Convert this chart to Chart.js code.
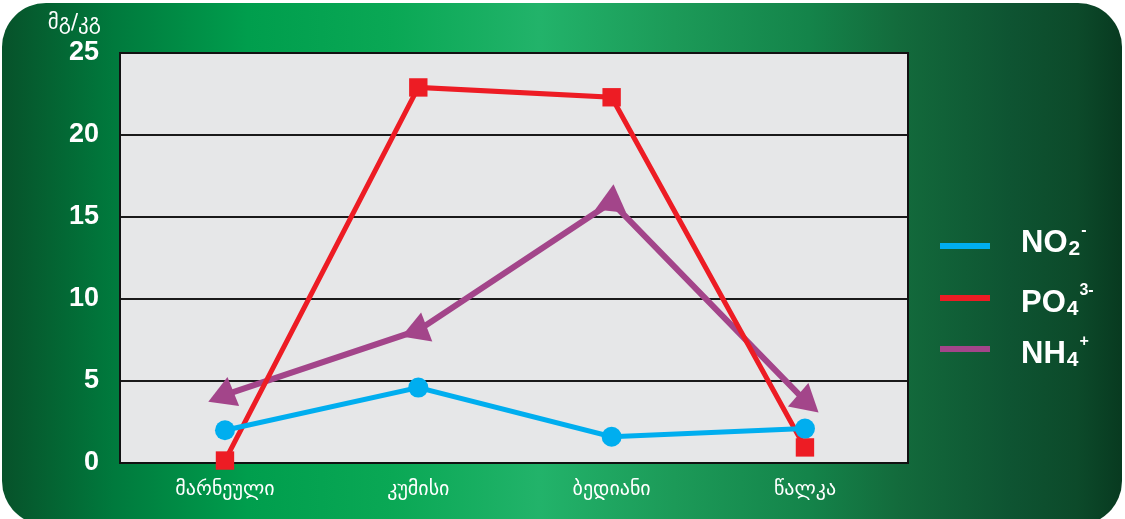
<!DOCTYPE html>
<html>
<head>
<meta charset="utf-8">
<script src="https://cdn.jsdelivr.net/npm/chart.js@4"></script>
<style>
  html, body { margin: 0; padding: 0; background: #fff; }
  #wrap { position: relative; width: 1125px; height: 519px; overflow: hidden; }
  #bg {
    position: absolute; left: 2px; top: 3px; width: 1120px; height: 522px;
    border-radius: 44px;
    background: linear-gradient(to right,
      #07522a 0%, #007a3d 10%, #009e4d 22%, #0aa855 35%, #22b36a 48%,
      #1c9a58 60%, #14844a 72%, #136b3c 80%, #0e5432 90%, #0c4a2a 96%, #083a20 100%);
  }
  #box { position: absolute; left: 0; top: 0; width: 1125px; height: 519px; }
</style>
</head>
<body>
<div id="wrap">
  <div id="bg"></div>
  <div id="box"><canvas id="myChart"></canvas></div>
</div>
<script>
// კატეგორიები (სადგურები)
const categories = ['მარნეული', 'კუმისი', 'ბედიანი', 'წალკა'];

// კონცენტრაციები, მგ/კგ
const no2Values = [2.0, 4.6, 1.6, 2.1];
const po4Values = [0.15, 22.9, 22.3, 0.95];
const nh4Values = [4.15, 8.1, 15.9, 3.8];

// Y ღერძის დანაყოფები
const yTicks = [0, 5, 10, 15, 20, 25];

// ლეგენდა: ძირითადი ტექსტი, ქვედა ინდექსი, ზედა ინდექსი
const seriesLabels = [['NO', '2', '-'], ['PO', '4', '3-'], ['NH', '4', '+']];
const unitLabel = 'მგ/კგ';

// ნაცრისფერი ფონი და ჩარჩო
const plotFrame = {
  id: 'plotFrame',
  beforeDraw(chart) {
    const { ctx, chartArea: a } = chart;
    ctx.save();
    ctx.fillStyle = '#e6e7e8';
    ctx.fillRect(a.left, a.top, a.right - a.left, a.bottom - a.top);
    ctx.restore();
  },
  beforeDatasetsDraw(chart) {
    const { ctx, chartArea: a } = chart;
    ctx.save();
    ctx.strokeStyle = '#111';
    ctx.lineWidth = 2;
    ctx.strokeRect(a.left, a.top, a.right - a.left, a.bottom - a.top);
    ctx.restore();
  }
};

// ერთეული და ლეგენდა ქიმიური ფორმულებით
const chemLegend = {
  id: 'chemLegend',
  afterDraw(chart) {
    const { ctx } = chart;
    ctx.save();
    ctx.fillStyle = '#fff';
    ctx.font = '21px "DejaVu Sans"';
    ctx.textAlign = 'right';
    ctx.textBaseline = 'middle';
    ctx.fillText(unitLabel, 101, 24);

    const lineY = [246, 298, 349];
    const baseY = [252, 312, 363];
    ctx.textAlign = 'left';
    ctx.textBaseline = 'alphabetic';
    seriesLabels.forEach((lbl, i) => {
      const ds = chart.data.datasets[i];
      ctx.fillStyle = ds.borderColor;
      ctx.fillRect(940, lineY[i] - 3, 50, 6);

      ctx.fillStyle = '#fff';
      let x = 1021;
      ctx.font = 'bold 31px "Liberation Sans"';
      ctx.fillText(lbl[0], x, baseY[i]);
      x += ctx.measureText(lbl[0]).width + 1;
      ctx.font = 'bold 21px "Liberation Sans"';
      ctx.fillText(lbl[1], x, baseY[i] + 3);
      x += ctx.measureText(lbl[1]).width + 1;
      ctx.font = 'bold 16px "Liberation Sans"';
      ctx.fillText(lbl[2], x, baseY[i] - 17);
    });
    ctx.restore();
  }
};

const data = {
  labels: categories,
  datasets: [
    {
      label: 'NO2-',
      data: no2Values,
      borderColor: '#00aeef',
      backgroundColor: '#00aeef',
      borderWidth: 5,
      pointStyle: 'circle',
      pointRadius: 10,
      pointBorderWidth: 0,
      clip: false
    },
    {
      label: 'PO43-',
      data: po4Values,
      borderColor: '#ed1c24',
      backgroundColor: '#ed1c24',
      borderWidth: 5,
      pointStyle: 'rect',
      pointRadius: 13,
      pointBorderWidth: 0,
      clip: false
    },
    {
      label: 'NH4+',
      data: nh4Values,
      borderColor: '#a3458a',
      backgroundColor: '#a3458a',
      borderWidth: 6,
      pointStyle: 'triangle',
      pointRadius: 18,
      pointRotation: [-112, -111, 6, 131],  // ისრის მიმართულება
      pointBorderWidth: 0,
      clip: false
    }
  ]
};

const config = {
  type: 'line',
  data: data,
  plugins: [plotFrame, chemLegend],
  options: {
    responsive: true,
    maintainAspectRatio: false,
    animation: false,
    events: [],
    layout: { padding: { top: 53, right: 217, bottom: 0, left: 0 } },
    plugins: {
      legend: { display: false },
      tooltip: { enabled: false }
    },
    scales: {
      x: {
        offset: false,
        grid: { display: false, drawTicks: false },
        border: { display: false },
        ticks: {
          color: '#fff',
          padding: 15,
          maxRotation: 0,
          autoSkip: false,
          font: { family: '"DejaVu Sans"', size: 20 }
        },
        afterBuildTicks: s => { s._startValue = -0.543; s._valueRange = 4.076; },
        afterFit: s => { s.height = 56; }
      },
      y: {
        min: 0,
        max: 25,
        grid: { color: '#1a1a1a', lineWidth: 2, drawTicks: false },
        border: { display: false },
        ticks: {
          color: '#fff',
          padding: 21,
          font: { family: '"Liberation Sans"', size: 27, weight: 'bold' }
        },
        afterBuildTicks: s => { s.ticks = yTicks.map(v => ({ value: v })); },
        afterFit: s => { s.width = 120; }
      }
    }
  }
};

const myChart = new Chart(document.getElementById('myChart'), config);
</script>
</body>
</html>
